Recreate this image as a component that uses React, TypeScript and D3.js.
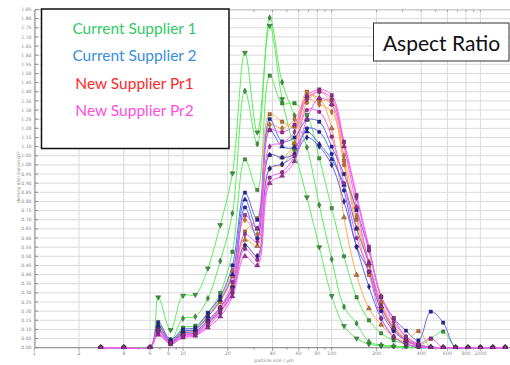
import React from "react";
import * as d3 from "d3";

// particle size classes (µm)
const sizes = [2.8, 4.0, 6.0, 6.81, 8.25, 10.0, 12.1, 14.7, 17.8, 21.5, 26.1, 31.6, 38.3, 46.4, 56.2, 68.1, 82.5, 100, 121, 147, 178, 215, 261, 316, 383, 464, 562, 681, 825, 1000, 1212, 1468];

// Current Supplier 1 (green)
const cs1a = [0, 0, 0, 0.276, 0.097, 0.285, 0.29, 0.434, 0.671, 0.954, 1.614, 1.178, 1.761, 1.36, 1.08, 0.823, 0.55, 0.283, 0.119, 0.051, 0.02, 0.01, 0.005, 0, 0, 0, 0, 0, 0, 0, 0, 0];
const cs1b = [0, 0, 0, 0.13, 0.04, 0.16, 0.17, 0.27, 0.474, 0.735, 1.404, 1.114, 1.805, 1.452, 1.27, 1.096, 0.78, 0.484, 0.224, 0.133, 0.033, 0.015, 0.01, 0.005, 0, 0, 0, 0, 0, 0, 0, 0];
const cs1c = [0, 0, 0, 0.1, 0.03, 0.11, 0.12, 0.19, 0.3, 0.525, 1.03, 0.863, 1.488, 1.337, 1.337, 1.273, 1.036, 0.763, 0.5, 0.276, 0.15, 0.079, 0.04, 0.02, 0.01, 0.05, 0.088, 0, 0, 0, 0, 0];

// Current Supplier 2 (blue)
const cs2a = [0, 0, 0, 0.14, 0.045, 0.1, 0.11, 0.19, 0.28, 0.45, 0.848, 0.7, 1.25, 1.128, 1.15, 1.246, 1.236, 1.1, 0.95, 0.753, 0.534, 0.279, 0.161, 0.093, 0.04, 0.197, 0.137, 0, 0, 0, 0, 0];
const cs2b = [0, 0, 0, 0.12, 0.035, 0.09, 0.1, 0.17, 0.26, 0.4, 0.81, 0.65, 1.19, 1.1, 1.096, 1.182, 1.114, 1.03, 0.89, 0.653, 0.46, 0.225, 0.106, 0.042, 0.015, 0.005, 0, 0, 0, 0, 0, 0];
const cs2c = [0, 0, 0, 0.1, 0.03, 0.08, 0.09, 0.15, 0.22, 0.33, 0.767, 0.598, 1.054, 1.04, 1.06, 1.2, 1.18, 1.06, 0.86, 0.553, 0.416, 0.2, 0.09, 0.04, 0.01, 0, 0, 0, 0, 0, 0, 0];
const cs2d = [0, 0, 0, 0.09, 0.025, 0.07, 0.08, 0.14, 0.2, 0.3, 0.56, 0.5, 0.98, 1.005, 1.05, 1.15, 1.1, 1.0, 0.8, 0.55, 0.334, 0.16, 0.06, 0.02, 0, 0, 0, 0, 0, 0, 0, 0];

// New Supplier Pr1 (orange)
const pr1a = [0, 0, 0, 0.11, 0.035, 0.085, 0.095, 0.17, 0.25, 0.39, 0.635, 0.708, 1.277, 1.236, 1.209, 1.4, 1.35, 1.355, 1.023, 0.65, 0.398, 0.215, 0.1, 0.04, 0.091, 0, 0, 0, 0, 0, 0, 0];
const pr1b = [0, 0, 0, 0.1, 0.03, 0.075, 0.085, 0.15, 0.22, 0.34, 0.59, 0.556, 1.054, 1.04, 1.12, 1.376, 1.364, 1.2, 0.713, 0.398, 0.215, 0.125, 0.06, 0.03, 0.01, 0, 0, 0, 0, 0, 0, 0];
const pr1c = [0, 0, 0, 0.095, 0.03, 0.07, 0.08, 0.14, 0.21, 0.33, 0.56, 0.502, 0.98, 1.0, 1.1, 1.34, 1.4, 1.33, 1.0, 0.7, 0.45, 0.24, 0.11, 0.05, 0.02, 0, 0, 0, 0, 0, 0, 0];
const pr1d = [0, 0, 0, 0.12, 0.04, 0.09, 0.1, 0.18, 0.27, 0.42, 0.7, 0.62, 1.22, 1.2, 1.25, 1.36, 1.33, 1.29, 1.05, 0.72, 0.47, 0.25, 0.12, 0.05, 0.02, 0, 0, 0, 0, 0, 0, 0];

// New Supplier Pr2 (magenta)
const pr2a = [0, 0, 0, 0.1, 0.03, 0.07, 0.08, 0.14, 0.22, 0.36, 0.726, 0.653, 1.19, 1.178, 1.22, 1.376, 1.413, 1.382, 1.127, 0.835, 0.553, 0.279, 0.161, 0.06, 0.02, 0.05, 0, 0, 0, 0, 0, 0];
const pr2b = [0, 0, 0, 0.08, 0.02, 0.06, 0.07, 0.12, 0.19, 0.3, 0.54, 0.48, 0.93, 0.96, 1.05, 1.3, 1.29, 1.154, 0.9, 0.6, 0.416, 0.161, 0.06, 0.02, 0.005, 0, 0, 0, 0, 0, 0, 0];
const pr2c = [0, 0, 0, 0.07, 0.02, 0.055, 0.065, 0.11, 0.17, 0.28, 0.5, 0.45, 0.9, 0.94, 1.02, 1.25, 1.364, 1.33, 1.1, 0.77, 0.46, 0.225, 0.106, 0.04, 0.01, 0, 0, 0, 0, 0, 0, 0];
const pr2d = [0, 0, 0, 0.09, 0.025, 0.065, 0.075, 0.13, 0.2, 0.32, 0.62, 0.58, 1.1, 1.12, 1.18, 1.36, 1.4, 1.36, 1.12, 0.82, 0.534, 0.28, 0.14, 0.06, 0.02, 0, 0, 0, 0, 0, 0, 0];

const xTickValues = [1, 2, 4, 6, 8, 10, 20, 40, 60, 80, 100, 200, 400, 600, 800, 1000];
const legendLabels = ["Current Supplier 1", "Current Supplier 2", "New Supplier Pr1", "New Supplier Pr2"];
const titleText = "Aspect Ratio";
const xTitle = "particle size / µm";
const yTitle = "density distribution q3*";

const groupStyle: Record<string, { line: string; fill: string }> = {
  g: { line: "#5aee5a", fill: "#2e9e2e" },
  o: { line: "#ffaa55", fill: "#d2701e" },
  b: { line: "#5c6cf5", fill: "#1c20a8" },
  m: { line: "#ff5cf0", fill: "#a524a5" },
};

const series = [
  { group: "g", shape: "triDown", values: cs1a },
  { group: "g", shape: "diamond", values: cs1b },
  { group: "g", shape: "square", values: cs1c },
  { group: "o", shape: "square", values: pr1a },
  { group: "o", shape: "triUp", values: pr1b },
  { group: "o", shape: "circle", values: pr1c },
  { group: "o", shape: "diamond", values: pr1d },
  { group: "b", shape: "square", values: cs2a },
  { group: "b", shape: "triUp", values: cs2b },
  { group: "b", shape: "circle", values: cs2c },
  { group: "b", shape: "diamond", values: cs2d },
  { group: "m", shape: "square", values: pr2a },
  { group: "m", shape: "circle", values: pr2b },
  { group: "m", shape: "triUp", values: pr2c },
  { group: "m", shape: "diamond", values: pr2d },
];

const legendColors = ["#33c96a", "#3a8ee0", "#ff2a2a", "#ff4fdc"];

export default function App() {
  const W = 510, H = 365;
  const left = 35, right = 510, top = 10, bottom = 347.7;
  const xMax = 1585;
  const x = d3.scaleLog().domain([1, xMax]).range([34.3, 34.3 + 148.7 * Math.log10(xMax)]);
  const y = d3.scaleLinear().domain([0, 1.85]).range([bottom, 9.5]);
  const yTicks = d3.range(0, 37 + 1).map((i) => i * 0.05);
  const minorX: number[] = [];
  [1, 10, 100, 1000].forEach((d) => {
    for (let m = 1; m <= 9; m++) if (m * d <= xMax) minorX.push(m * d);
  });

  const line = d3
    .line<number>()
    .x((_, i) => x(sizes[i]))
    .y((v) => y(v))
    .curve(d3.curveCatmullRom.alpha(0.5));

  const symPath = (shape: string) => {
    const t =
      shape === "square" ? d3.symbolSquare :
      shape === "diamond" ? d3.symbolDiamond :
      shape === "circle" ? d3.symbolCircle : d3.symbolTriangle;
    return d3.symbol().type(t).size(shape === "diamond" ? 10 : 11)() as string;
  };

  return (
    <svg width={W} height={H} style={{ position: "absolute", left: 0, top: 0, background: "#fff" }}
      fontFamily="'DejaVu Sans', sans-serif">
      <defs>
        <clipPath id="plot">
          <rect x={left} y={top - 2} width={right - left} height={bottom - top + 3} />
        </clipPath>
      </defs>
      <rect x={0} y={0} width={W} height={H} fill="#fff" />
      {/* gridlines */}
      {yTicks.map((t, i) => (
        <line key={"gy" + i} x1={left} x2={right} y1={y(t)} y2={y(t)} stroke="#dadada" strokeWidth={1} />
      ))}
      {xTickValues.map((t, i) => (
        <line key={"gx" + i} x1={x(t)} x2={x(t)} y1={top} y2={bottom} stroke="#dadada" strokeWidth={1} />
      ))}
      {/* frame top */}
      <line x1={left} x2={right} y1={top} y2={top} stroke="#bbb" strokeWidth={0.8} />
      {minorX.map((t, i) => (
        <line key={"tt" + i} x1={x(t)} x2={x(t)} y1={top} y2={top + 2} stroke="#888" strokeWidth={0.7} />
      ))}
      {/* axes */}
      <line x1={left} x2={left} y1={top} y2={bottom} stroke="#888" strokeWidth={1} />
      <line x1={left} x2={right} y1={bottom} y2={bottom} stroke="#888" strokeWidth={1} />
      {yTicks.map((t, i) => (
        <g key={"yt" + i}>
          <line x1={left} x2={left + 3} y1={y(t)} y2={y(t)} stroke="#777" strokeWidth={0.8} />
          <text x={31.5} y={y(t) + 1.6} fontSize={4.6} fill="#888" textAnchor="end">{t.toFixed(2)}</text>
        </g>
      ))}
      {minorX.map((t, i) => (
        <line key={"xt" + i} x1={x(t)} x2={x(t)} y1={bottom} y2={bottom + (xTickValues.includes(t) ? 3 : 2)} stroke="#777" strokeWidth={0.7} />
      ))}
      {xTickValues.map((t, i) => (
        <text key={"xl" + i} x={x(t)} y={355} fontSize={4.8} fill="#888" textAnchor="middle">{t}</text>
      ))}
      <text x={274} y={361.5} fontSize={4.6} fill="#888" textAnchor="middle">{xTitle}</text>
      <text transform={`translate(19.5,177) rotate(-90)`} fontSize={4.4} fill="#888" textAnchor="middle">{yTitle}</text>

      {/* series */}
      <g clipPath="url(#plot)">
        {series.map((s, si) => (
          <path key={"l" + si} d={line(s.values.slice(0, sizes.length)) as string} fill="none"
            stroke={groupStyle[s.group].line} strokeWidth={1} />
        ))}
        {series.map((s, si) => (
          <g key={"m" + si}>
            {s.values.map((v, i) => (
              <path key={i} d={symPath(s.shape)}
                transform={`translate(${x(sizes[i])},${y(v)})${s.shape === "triDown" ? " rotate(180)" : ""}`}
                fill={groupStyle[s.group].fill} stroke="#333" strokeWidth={0.4} />
            ))}
          </g>
        ))}
      </g>

      {/* legend box */}
      <rect x={41.5} y={9} width={187.5} height={139.5} fill="#fff" stroke="#111" strokeWidth={1.5} />
      {legendLabels.map((l, i) => (
        <text key={"lg" + i} x={134.5} y={34 + i * 27.3} fontSize={15.5} fontFamily="Lato, 'Open Sans', sans-serif"
          fill={legendColors[i]} textAnchor="middle">{l}</text>
      ))}

      {/* title box */}
      <rect x={373.5} y={23} width={135.5} height={38} fill="#fff" stroke="#333" strokeWidth={1} />
      <text x={441.5} y={50.5} fontSize={21} fontFamily="Lato, 'Open Sans', sans-serif" fill="#111" textAnchor="middle">{titleText}</text>
    </svg>
  );
}
